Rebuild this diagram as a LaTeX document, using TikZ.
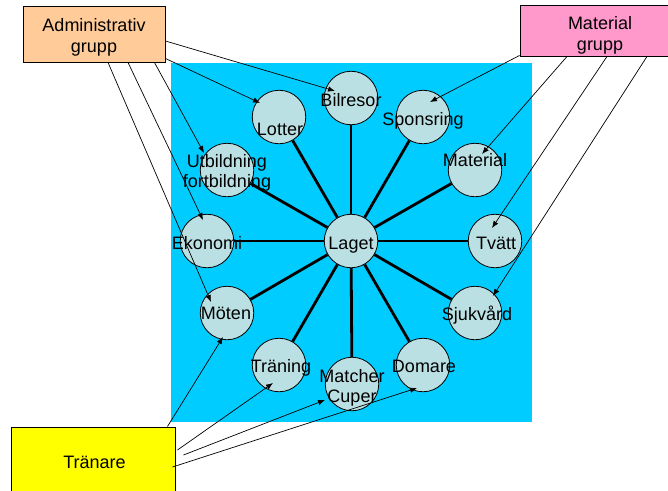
\documentclass[tikz,border=0pt]{standalone}
\usepackage{fontspec}
\setmainfont{Liberation Sans}
\usetikzlibrary{arrows.meta,calc}
\definecolor{bgblue}{HTML}{00CCFF}
\definecolor{circfill}{RGB}{187,224,227}
\definecolor{admfill}{HTML}{FFCC99}
\definecolor{matfill}{HTML}{FF99CC}
\definecolor{trafill}{HTML}{FFFF00}
\tikzset{
  bub/.style={circle,draw=black,line width=0.8pt,fill=circfill,minimum size=53.5pt,inner sep=0pt},
  txt/.style={anchor=base,inner sep=0pt,font=\fontsize{18}{21}\selectfont,align=center},
  hub/.style={line width=2.8pt,black},
  arr/.style={line width=0.7pt,-{Latex[length=7pt,width=5.5pt]}},
  grpbox/.style={draw=black,line width=0.9pt,inner sep=0pt}
}
\begin{document}
\begin{tikzpicture}[x=1pt,y=-1pt]
\useasboundingbox (0,0) rectangle (668,490);
% background square
\fill[bgblue] (171,63) rectangle (532,422);
% circles
\node[bub] (lag) at (351,241) {};
\node[bub] (bil) at (351,98) {};
\node[bub] (lot) at (279,117) {};
\node[bub] (spo) at (423,117) {};
\node[bub] (utb) at (227,170) {};
\node[bub] (mtr) at (475,170) {};
\node[bub] (eko) at (207,241) {};
\node[bub] (tva) at (495,241) {};
\node[bub] (mot) at (227,313) {};
\node[bub] (sju) at (475,313) {};
\node[bub] (trn) at (279,365) {};
\node[bub] (dom) at (423,365) {};
\node[bub] (mat) at (352,384) {};
% hub lines
\foreach \n in {bil,lot,spo,utb,mtr,eko,tva,mot,sju,trn,dom,mat}
  \draw[hub] (lag) -- (\n);
% circle texts
\node[txt] (t-lag) at (351,249) {Laget};
\node[txt] (t-bil) at (351,106) {Bilresor};
\node[txt] (t-lot) at (280,135) {Lotter};
\node[txt] (t-spo) at (423,125) {Sponsring};
\node[txt] (t-utb) at (227,187) {Utbildning\\[-1pt]fortbildning};
\node[txt] (t-mtr) at (475,166) {Material};
\node[txt] (t-eko) at (207,249) {Ekonomi};
\node[txt] (t-tva) at (496,249) {Tvätt};
\node[txt] (t-mot) at (226,319) {Möten};
\node[txt] (t-sju) at (477,320) {Sjukvård};
\node[txt] (t-trn) at (281,372) {Träning};
\node[txt] (t-dom) at (424,372) {Domare};
\node[txt] (t-mat) at (352,402) {Matcher\\[-1pt]Cuper};
% group boxes
\node[grpbox,fill=admfill,minimum width=142pt,minimum height=56pt] (adm) at (94,34) {};
\node[txt] (t-adm) at (94,52) {Administrativ\\[0pt]grupp};
\node[grpbox,fill=matfill,minimum width=160pt,minimum height=51pt] (mgr) at (600,30.5) {};
\node[txt] (t-mgr) at (600,50) {Material\\[0pt]grupp};
\node[grpbox,fill=trafill,minimum width=164pt,minimum height=70pt] (tra) at (93,462) {};
\node[txt] (t-tra) at (94.5,468) {Tränare};
% arrows from Administrativ grupp
\draw[arr] ($(adm.east)+(0,7)$) -- ($(bil)+(-16,-7)$);
\draw[arr] ($(adm.south east)+(0,-4)$) -- ($(lot)+(-19,-14)$);
\draw[arr] ($(adm.south east)+(-11,0)$) -- ($(utb)+(-23,-17)$);
\draw[arr] ($(adm.south)+(34,0)$) -- ($(eko)+(-4,-21)$);
\draw[arr] ($(adm.south)+(14,0)$) -- ($(mot)+(-16,-11)$);
% arrows from Material grupp
\draw[arr] ($(mgr.south west)+(0,-1)$) -- ($(spo)+(7,-15)$);
\draw[arr] ($(mgr.south)+(-33,0)$) -- ($(mtr)+(7,-16)$);
\draw[arr] ($(mgr.south)+(7,0)$) -- ($(tva)+(-3,-13)$);
\draw[arr] ($(mgr.south)+(47,0)$) -- ($(sju)+(18,-17)$);
% arrows from Tränare
\draw[arr] ($(tra.north east)+(-8,0)$) -- ($(mot)+(-4,24)$);
\draw[arr] ($(tra.east)+(2,-12)$) -- ($(trn)+(-6,18)$);
\draw[arr] ($(tra.east)+(8,-7)$) -- ($(mat)+(-27,16)$);
\draw[arr] ($(tra.east)+(-3,5)$) -- ($(dom)+(-6,23)$);
\end{tikzpicture}
\end{document}
